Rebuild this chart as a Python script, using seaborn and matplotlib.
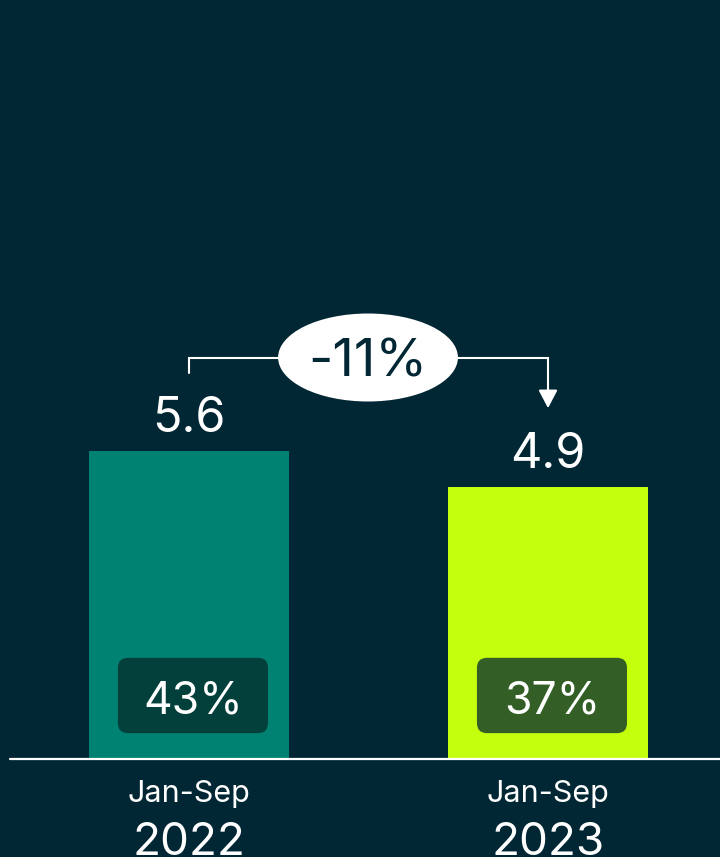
import numpy as np
import pandas as pd
import matplotlib
matplotlib.use('Agg')
import matplotlib.pyplot as plt
import seaborn as sns
from matplotlib.patches import FancyBboxPatch, Ellipse

# Data
periods = ['Jan-Sep\n2022', 'Jan-Sep\n2023']
months = ['Jan-Sep', 'Jan-Sep']
years = ['2022', '2023']
values = [5.6, 4.95]          # bar heights
value_labels = ['5.6', '4.9']
shares = ['43%', '37%']
change_label = '-11%'

bg = '#022734'
bar_colors = ['#008272', '#c4ff0e']
badge_colors = ['#033f3b', '#335f27']

sns.set_theme(style='white')
plt.rcParams['font.family'] = ['Inter', 'DejaVu Sans']

df = pd.DataFrame({'period': periods, 'value': values})

fig = plt.figure(figsize=(7.2, 8.57), dpi=100, facecolor=bg)
ax = fig.add_axes([10 / 720, 98 / 857, 710 / 720, 759 / 857])
ax.set_facecolor(bg)

sns.barplot(data=df, x='period', y='value', hue='period', palette=bar_colors,
            width=0.557, saturation=1, legend=False, edgecolor='none',
            linewidth=0, ax=ax)

ax.set_xlim(-0.4986, 1.479)
ax.set_ylim(0, 13.8)
ax.axhline(0, color='white', lw=1.6, clip_on=False, zorder=5)
for s in ax.spines.values():
    s.set_visible(False)
ax.set_xticks([])
ax.set_yticks([])
ax.set_xlabel('')
ax.set_ylabel('')

# x-unit is 359 px, y-unit is 55 px
aspect = 359 / 55
for i, (v, sh) in enumerate(zip(values, shares)):
    ax.text(i, v + 0.34, value_labels[i], ha='center', va='baseline',
            color='white', fontsize=35)
    bx = i + 0.011
    badge = FancyBboxPatch((bx - 0.209, 0.47), 0.418, 1.37,
                           boxstyle='round,pad=0,rounding_size=0.028',
                           mutation_aspect=aspect, fc=badge_colors[i],
                           ec='none', zorder=3)
    ax.add_patch(badge)
    ax.text(bx, 0.82, sh, ha='center', va='baseline', color='white',
            fontsize=32, zorder=4)
    ax.text(i, -0.78, months[i], ha='center', va='baseline', color='white',
            fontsize=22, clip_on=False)
    ax.text(i, -1.745, years[i], ha='center', va='baseline', color='white',
            fontsize=33, clip_on=False)

# change bracket
ax.plot([0, 0, 1, 1], [7.02, 7.29, 7.29, 6.7], color='white', lw=1.5,
        solid_joinstyle='miter', zorder=2)
ax.annotate('', xy=(1, 6.38), xytext=(1, 6.75),
            arrowprops=dict(arrowstyle='-|>,head_length=0.55,head_width=0.29',
                            mutation_scale=20, color='white', lw=1.5,
                            shrinkA=0, shrinkB=0))
ax.add_patch(Ellipse((0.4986, 7.3), 0.501, 1.6, fc='white', ec='none', zorder=6))
ax.text(0.4986, 6.96, change_label, ha='center', va='baseline', color=bg,
        fontsize=38, zorder=7)

fig.savefig('out.png', dpi=100, facecolor=bg)
